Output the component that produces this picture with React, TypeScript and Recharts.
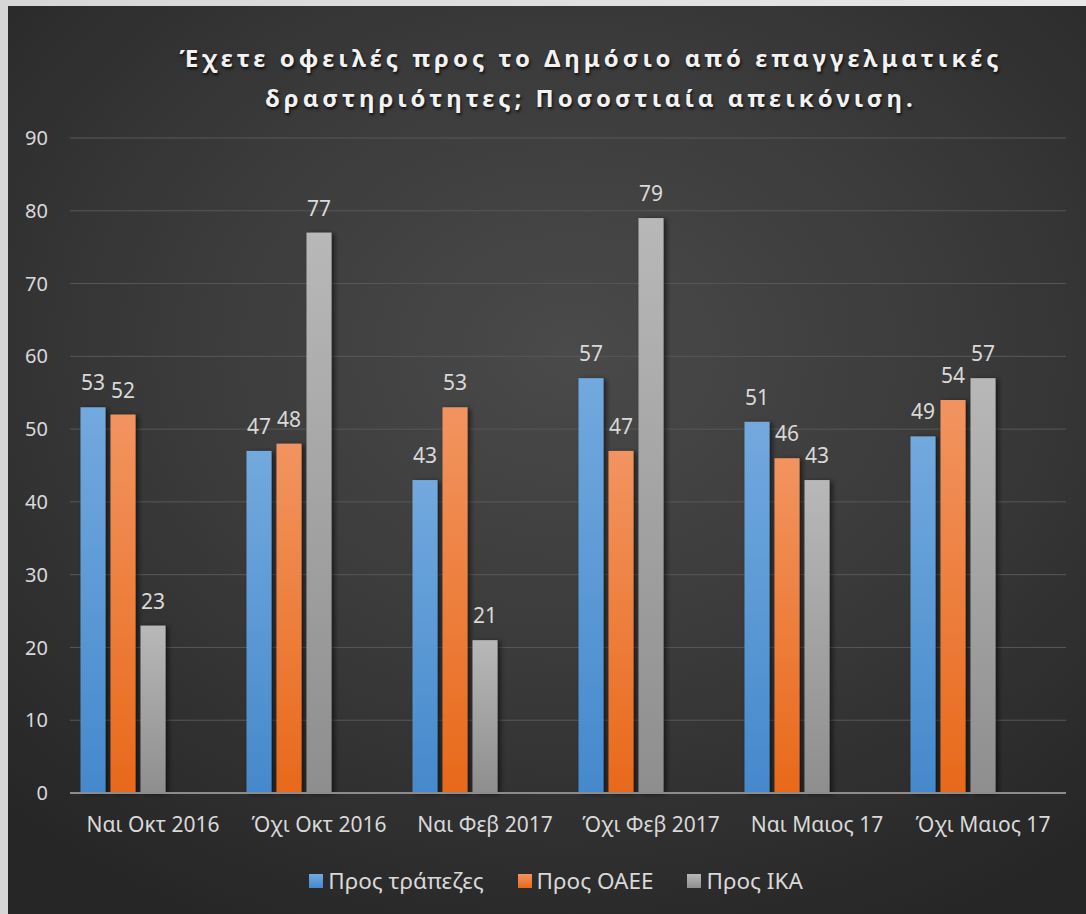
import React from 'react';
import { BarChart, Bar, XAxis, YAxis, CartesianGrid, Legend, LabelList } from 'recharts';

const categories = ['Ναι Οκτ 2016', 'Όχι Οκτ 2016', 'Ναι Φεβ 2017', 'Όχι Φεβ 2017', 'Ναι Μαιος 17', 'Όχι Μαιος 17'];
const banks = [53, 47, 43, 57, 51, 49];
const oaee = [52, 48, 53, 47, 46, 54];
const ika = [23, 77, 21, 79, 43, 57];
const yTicks = [0, 10, 20, 30, 40, 50, 60, 70, 80, 90];

const SERIES = [
  { key: 'banks', name: 'Προς τράπεζες', grad: 'gBlue', top: '#72a9de', bottom: '#4589cc' },
  { key: 'oaee', name: 'Προς ΟΑΕΕ', grad: 'gOrange', top: '#f29460', bottom: '#e8691a' },
  { key: 'ika', name: 'Προς ΙΚΑ', grad: 'gGrey', top: '#b8b8b8', bottom: '#8e8e8e' },
];

const data = categories.map((name, i) => ({ name, banks: banks[i], oaee: oaee[i], ika: ika[i] }));

const FONT = '"Noto Sans", sans-serif';
const TEXT = '#d9d9d9';

// bar with drop shadow to the right
const ShadowBar = (props: any) => {
  const { x, y, width, height, fill } = props;
  if (!height || height <= 0) return null;
  return <rect x={x} y={y} width={width} height={height} fill={fill} filter="url(#barShadow)" />;
};

const LegendContent = () => (
  <div
    style={{
      display: 'flex',
      justifyContent: 'center',
      paddingLeft: 38,
      fontFamily: FONT,
      fontSize: 22.5,
      color: TEXT,
    }}
  >
    {SERIES.map((s, i) => (
      <div
        key={s.key}
        style={{ display: 'flex', alignItems: 'center', marginRight: i < SERIES.length - 1 ? 34 : 0 }}
      >
        <span
          style={{
            display: 'inline-block',
            width: 14,
            height: 14,
            marginRight: 5,
            background: `linear-gradient(${s.top}, ${s.bottom})`,
          }}
        />
        <span>{s.name}</span>
      </div>
    ))}
  </div>
);

export default function App() {
  return (
    <div
      style={{
        position: 'absolute',
        left: 0,
        top: 0,
        width: 1086,
        height: 914,
        background: 'linear-gradient(90deg, #d6d6d6, #e8e8e8)',
        overflow: 'hidden',
      }}
    >
      <div
        style={{
          position: 'absolute',
          left: 8,
          top: 6,
          width: 1078,
          height: 908,
          background: 'radial-gradient(ellipse 75% 70% at 52% 38%, #4a4a4a 0%, #3a3a3a 50%, #262626 100%)',
        }}
      >
        <div
          style={{
            position: 'absolute',
            left: 0,
            top: 32,
            width: 1166,
            textAlign: 'center',
            fontFamily: FONT,
            fontWeight: 700,
            fontSize: 24,
            letterSpacing: 4,
            lineHeight: '40px',
            color: '#f2f2f2',
            textShadow: '1px 2px 3px rgba(0,0,0,0.8)',
          }}
        >
          Έχετε οφειλές προς το Δημόσιο από επαγγελματικές
          <br />
          δραστηριότητες; Ποσοστιαία απεικόνιση.
        </div>
        <BarChart
          width={1078}
          height={908}
          data={data}
          margin={{ top: 132, right: 20, left: 0, bottom: 41 }}
          barCategoryGap={10.5}
          barGap={5}
        >
          <defs>
            {SERIES.map((s) => (
              <linearGradient key={s.grad} id={s.grad} x1="0" y1="0" x2="0" y2="1">
                <stop offset="0%" stopColor={s.top} />
                <stop offset="100%" stopColor={s.bottom} />
              </linearGradient>
            ))}
            <filter id="barShadow" x="-30%" y="-10%" width="160%" height="120%">
              <feDropShadow dx="3" dy="1" stdDeviation="2.5" floodColor="#000" floodOpacity="0.55" />
            </filter>
          </defs>
          <CartesianGrid vertical={false} stroke="#585858" strokeWidth={1} />
          <XAxis
            dataKey="name"
            height={50}
            tickLine={false}
            axisLine={{ stroke: '#8c8c8c', strokeWidth: 2 }}
            tickMargin={18}
            tick={{ fill: TEXT, fontSize: 21, fontFamily: FONT }}
            interval={0}
          />
          <YAxis
            width={62}
            domain={[0, 90]}
            ticks={yTicks}
            tickLine={false}
            axisLine={false}
            tickMargin={16}
            tick={{ fill: TEXT, fontSize: 20, fontFamily: FONT }}
          />
          <Legend content={<LegendContent />} wrapperStyle={{ bottom: 19, height: 30 }} />
          {SERIES.map((s) => (
            <Bar
              key={s.key}
              dataKey={s.key}
              name={s.name}
              fill={`url(#${s.grad})`}
              shape={<ShadowBar />}
              isAnimationActive={false}
            >
              <LabelList dataKey={s.key} position="top" offset={17} fill={TEXT} fontSize={21} fontFamily={FONT} />
            </Bar>
          ))}
          <Bar dataKey="empty1" legendType="none" isAnimationActive={false} />
          <Bar dataKey="empty2" legendType="none" isAnimationActive={false} />
        </BarChart>
      </div>
    </div>
  );
}
